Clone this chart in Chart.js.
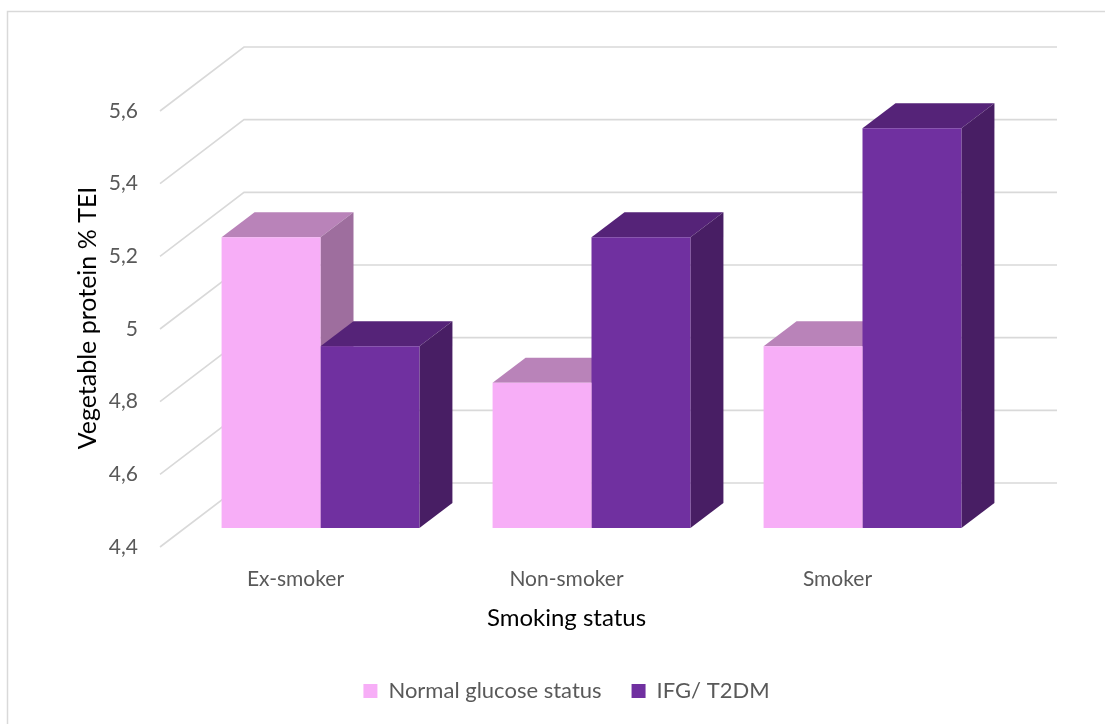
<!DOCTYPE html>
<html>
<head>
<meta charset="utf-8">
<script src="https://cdn.jsdelivr.net/npm/chart.js@4.4.1/dist/chart.umd.min.js"></script>
<style>
  html, body { margin: 0; padding: 0; background: #fff; }
  #wrap { width: 1105px; height: 724px; position: relative; }
</style>
</head>
<body>
<div id="wrap"><canvas id="myChart"></canvas></div>
<script>
// data
const categories = ['Ex-smoker', 'Non-smoker', 'Smoker']
const normalGlucose = [5.2, 4.8, 4.9]
const ifgT2dm = [4.9, 5.2, 5.5]
const seriesNames = ['Normal glucose status', 'IFG/ T2DM']
const yTicks = [4.4, 4.6, 4.8, 5.0, 5.2, 5.4, 5.6]

// 3d look
const backX = 84, backY = -64      // back wall offset from axis plane
const frontX = 25, frontY = -19    // where the bar fronts sit
const depthX = 33, depthY = -25    // bar depth
const faces = [
    { top: '#b983b9', side: '#9e6e9e' },
    { top: '#552378', side: '#481e64' }
]

Chart.defaults.font.family = 'Lato'

const fakeDepth = {
    id: 'fakeDepth',
    beforeDraw(chart) {
        const ctx = chart.ctx
        const area = chart.chartArea
        const y = chart.scales.y
        // outer border
        ctx.save()
        ctx.strokeStyle = '#d9d9d9'
        ctx.lineWidth = 1.5
        ctx.beginPath()
        ctx.moveTo(7.5, 724)
        ctx.lineTo(7.5, 11.5)
        ctx.lineTo(1105, 11.5)
        ctx.stroke()
        // walls grid
        ctx.lineWidth = 1.6
        yTicks.forEach(v => {
            const py = y.getPixelForValue(v)
            ctx.beginPath()
            ctx.moveTo(area.left, py)
            ctx.lineTo(area.left + backX, py + backY)
            ctx.lineTo(area.right + backX, py + backY)
            ctx.stroke()
        })
        ctx.restore()
    },
    beforeDatasetsDraw(chart) {
        const ctx = chart.ctx
        const floor = chart.scales.y.getPixelForValue(yTicks[0])
        ctx.save()
        ctx.translate(frontX, frontY)
        chart.data.datasets.forEach((ds, d) => {
            chart.getDatasetMeta(d).data.forEach(bar => {
                const l = bar.x - bar.width / 2
                const r = bar.x + bar.width / 2
                const t = bar.y
                const b = Math.min(bar.base, floor)
                // top
                ctx.fillStyle = faces[d].top
                ctx.beginPath()
                ctx.moveTo(l, t)
                ctx.lineTo(l + depthX, t + depthY)
                ctx.lineTo(r + depthX, t + depthY)
                ctx.lineTo(r, t)
                ctx.closePath()
                ctx.fill()
                // side
                ctx.fillStyle = faces[d].side
                ctx.beginPath()
                ctx.moveTo(r, t)
                ctx.lineTo(r + depthX, t + depthY)
                ctx.lineTo(r + depthX, b + depthY)
                ctx.lineTo(r, b)
                ctx.closePath()
                ctx.fill()
            })
        })
    },
    afterDatasetsDraw(chart) {
        chart.ctx.restore()
    },
    afterDraw(chart) {
        // y axis title
        const ctx = chart.ctx
        ctx.save()
        ctx.translate(88, 318)
        ctx.rotate(-Math.PI / 2)
        ctx.fillStyle = '#000'
        ctx.font = '25px Lato'
        ctx.textAlign = 'center'
        ctx.textBaseline = 'middle'
        ctx.fillText('Vegetable protein % TEI', 0, 0)
        ctx.restore()
    }
}

const myChart = new Chart(document.getElementById('myChart'), {
    type: 'bar',
    data: {
        labels: categories,
        datasets: [
            { label: seriesNames[0], data: normalGlucose, backgroundColor: '#f7aef7', borderWidth: 0 },
            { label: seriesNames[1], data: ifgT2dm, backgroundColor: '#7030a0', borderWidth: 0 }
        ]
    },
    options: {
        responsive: true,
        maintainAspectRatio: false,
        animation: false,
        layout: { padding: { left: 0, right: 132, top: 111, bottom: 12 } },
        datasets: { bar: { barPercentage: 1, categoryPercentage: 0.73 } },
        scales: {
            x: {
                grid: { display: false, drawTicks: false },
                border: { display: false },
                ticks: { color: '#595959', font: { size: 21 }, padding: 20 },
                title: { display: true, text: 'Smoking status', color: '#000', font: { size: 24 }, padding: { top: 0, bottom: 17 } },
                afterFit(scale) { scale.height = 103 }
            },
            y: {
                min: yTicks[0],
                max: yTicks[yTicks.length - 1],
                grid: { display: false, drawTicks: false },
                border: { display: false },
                ticks: {
                    stepSize: 0.2,
                    color: '#595959',
                    font: { size: 21 },
                    padding: 22,
                    callback: (value) => String(Number(value.toFixed(1))).replace('.', ',')
                },
                afterFit(scale) { scale.width = 160 }
            }
        },
        plugins: {
            legend: {
                position: 'bottom',
                fullSize: false,
                labels: { boxWidth: 14, boxHeight: 14, color: '#595959', font: { size: 22 }, padding: 30 }
            },
            tooltip: { enabled: false }
        }
    },
    plugins: [fakeDepth]
});
</script>
</body>
</html>
